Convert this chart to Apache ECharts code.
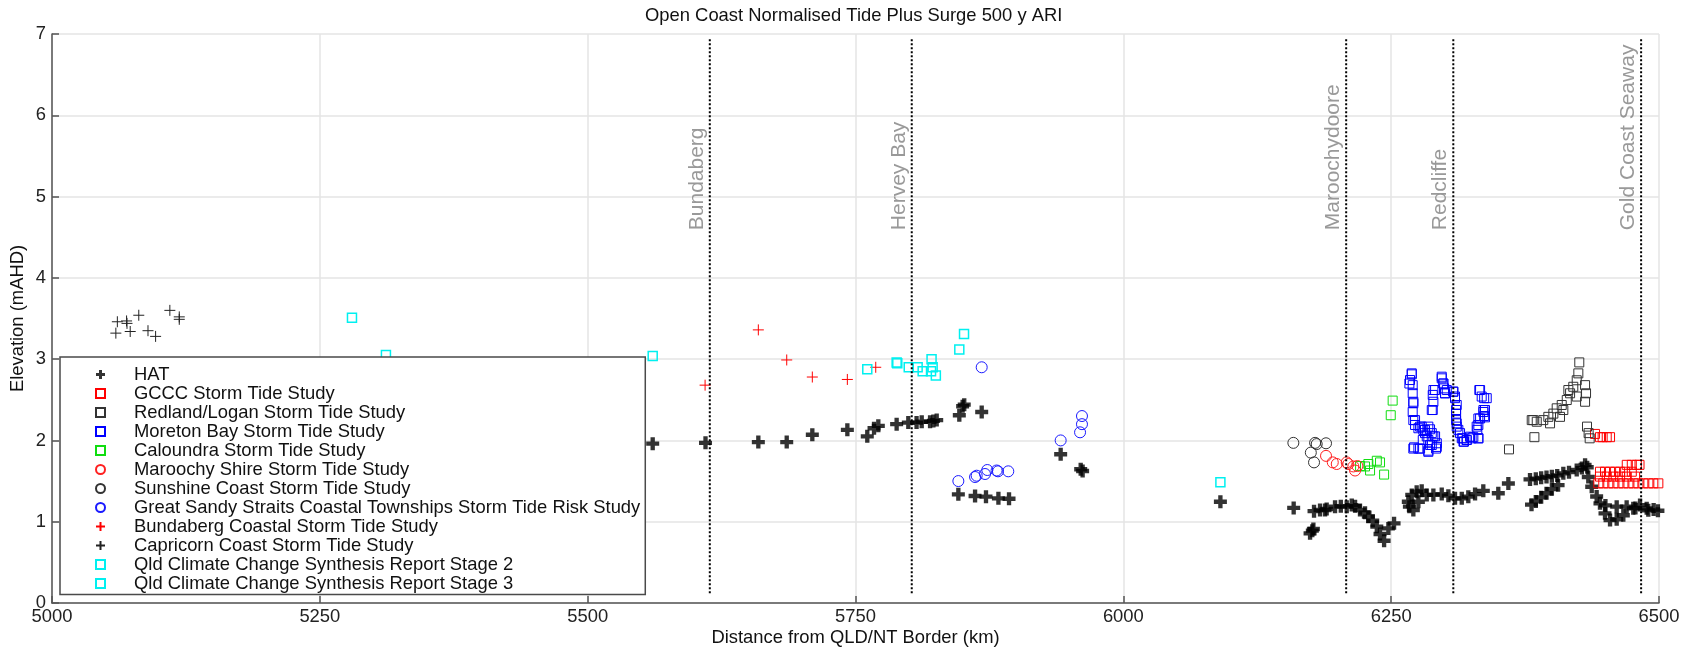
<!DOCTYPE html>
<html><head><meta charset="utf-8">
<script src="https://cdn.jsdelivr.net/npm/echarts@6/dist/echarts.min.js"></script>
<style>html,body{margin:0;padding:0;background:#fff}#c{width:1686px;height:648px}</style>
</head><body><div id="c"></div>
<script>
const titleText = 'Open Coast Normalised Tide Plus Surge 500 y ARI';
const xName = 'Distance from QLD/NT Border (km)';
const yName = 'Elevation (mAHD)';
const xMin = 5000, xMax = 6500, xStep = 250;
const yMin = 0, yMax = 7, yStep = 1;

const placeNames = ['Bundaberg', 'Hervey Bay', 'Maroochydoore', 'Redcliffe', 'Gold Coast Seaway'];
const placeKm = [5614, 5802.5, 6208, 6308, 6483.3];
const placeLabelY = 4.58;
const placeLineSpan = [0.12, 6.94];

const seriesNames = [
  'HAT',
  'GCCC Storm Tide Study',
  'Redland/Logan Storm Tide Study',
  'Moreton Bay Storm Tide Study',
  'Caloundra Storm Tide Study',
  'Maroochy Shire Storm Tide Study',
  'Sunshine Coast Storm Tide Study',
  'Great Sandy Straits Coastal Townships Storm Tide Risk Study',
  'Bundaberg Coastal Storm Tide Study',
  'Capricorn Coast Storm Tide Study',
  'Qld Climate Change Synthesis Report Stage 2',
  'Qld Climate Change Synthesis Report Stage 3'
];

const hat = [
  [5560.7,1.96],[5610,1.97],[5659.3,1.98],[5685.8,1.98],[5709.7,2.07],[5742.4,2.13],[5761,2.05],
  [5767.3,2.15],[5771.3,2.18],[5788.4,2.20],[5799.3,2.22],[5807,2.22],[5811.8,2.23],[5819.6,2.23],
  [5822.7,2.24],[5825.8,2.25],[5846.9,2.31],[5850,2.42],[5851.5,2.44],[5867.8,2.35],
  [5846,1.337],[5861.6,1.316],[5871.8,1.308],[5883.4,1.288],[5893.3,1.283],
  [5941.5,1.83],[5960.2,1.645],[5962,1.624],[6090.6,1.246],
  [6159,1.17],[6174.3,0.857],[6176.4,0.89],[6177.4,0.91],[6178,1.13],[6183.6,1.144],[6188.3,1.144],
  [6189.8,1.156],[6197.6,1.185],[6203,1.19],[6208.5,1.185],[6213.2,1.205],[6216.3,1.19],
  [6220.9,1.144],[6225.6,1.111],[6228.7,1.062],[6232.8,1.012],[6236.6,0.939],[6239.6,0.849],
  [6243.4,0.766],[6247.4,0.918],[6252.7,0.98],
  [6266,1.246],[6267,1.185],[6270.7,1.144],[6269.2,1.33],[6273.8,1.37],[6275.4,1.246],[6278.5,1.38],
  [6283.2,1.33],[6289.4,1.33],[6297.2,1.34],[6303.4,1.32],[6309.6,1.288],[6315.9,1.288],
  [6322,1.308],[6328.3,1.34],[6336,1.38],[6350,1.35],[6359.4,1.47],
  [6379.6,1.52],[6385,1.53],[6390,1.54],[6395,1.55],[6400,1.56],[6405,1.57],[6410.7,1.595],
  [6416,1.61],[6423.2,1.636],[6428,1.66],[6431,1.70],[6433,1.67],
  [6381,1.21],[6385,1.25],[6390,1.30],[6395,1.35],[6400,1.40],[6405.8,1.45],
  [6434,1.55],[6437.2,1.43],[6441.8,1.31],[6444.9,1.226],[6449.6,1.103],[6454.3,1.02],
  [6460.5,1.03],[6466.7,1.08],[6476,1.165],[6482.3,1.205],[6488.5,1.165],[6499,1.135],
  [6450,1.20],[6460.5,1.185],[6469.8,1.185],[6478,1.17],[6490,1.14],[6495,1.15]
];

const gccc = [
  [6440.3,2.08],[6444.9,2.04],[6447.4,2.04],[6451.2,2.04],[6454.3,2.04],
  [6469.9,1.70],[6474.6,1.70],[6479.3,1.70],[6481.8,1.70],
  [6444.9,1.615],[6449.6,1.615],[6454.3,1.615],[6459,1.615],[6463.7,1.615],[6468.4,1.615],[6474.6,1.615],
  [6444.9,1.555],[6451.2,1.555],[6457.4,1.555],[6463.7,1.555],[6469.9,1.555],[6477.7,1.555],
  [6443.4,1.472],[6448,1.472],[6452.7,1.472],[6457.4,1.472],[6462.1,1.472],[6466.8,1.472],[6471.5,1.472],
  [6476.1,1.472],[6480.8,1.472],[6485.4,1.472],[6490.1,1.472],[6494.7,1.472],[6499.4,1.472]
];

const redland = [
  [6360,1.89],[6383.7,2.04],[6381.2,2.25],[6382.7,2.25],[6385.9,2.23],[6392,2.25],[6396.7,2.29],
  [6398.3,2.21],[6401.4,2.33],[6404.5,2.395],[6407.6,2.29],[6409.2,2.436],[6410.7,2.374],
  [6413.9,2.497],[6415.4,2.62],[6417,2.58],[6420,2.66],[6423.2,2.74],[6423.2,2.54],[6424.7,2.825],
  [6425.6,2.96],[6431,2.68],[6431.9,2.58],[6431,2.476],[6432.8,2.17],[6434.3,2.09],[6435.3,2.026]
];

const moreton = [
  [6269.2,2.813],[6267.6,2.743],[6267,2.70],[6270.1,2.68],[6270.1,2.58],[6270.7,2.476],[6270.1,2.35],
  [6270.7,2.25],[6272.3,2.19],[6275.4,2.15],[6278.5,2.17],[6280,2.13],[6281.6,2.09],[6283.2,2.05],
  [6284.7,2.005],[6279.5,2.005],[6286.3,2.137],[6287.9,2.09],[6291,2.05],[6292.6,1.965],[6291.9,1.90],
  [6287.9,1.944],[6284.7,1.874],[6277,1.90],[6271.4,1.915],[6288.8,2.374],[6289.4,2.476],[6288.8,2.56],
  [6291,2.62],[6297.2,2.764],[6298.7,2.70],[6299.4,2.64],[6300.3,2.58],[6301.9,2.62],[6308,2.60],
  [6309.6,2.54],[6311.2,2.436],[6310.6,2.33],[6310.6,2.25],[6311.2,2.17],[6314.3,2.09],[6316.8,2.026],
  [6318,1.985],[6320.5,2.005],[6323.6,2.046],[6326.7,2.04],[6331.4,2.026],[6330.4,2.13],[6331.4,2.19],
  [6333,2.27],[6336.1,2.35],[6337.6,2.284],[6337.6,2.374],[6332.3,2.62],[6334.5,2.54],[6339.2,2.52],
  [6269.2,2.825],[6270.7,2.457],[6272.3,2.25],[6277,2.17],[6281.6,2.13],[6284.7,2.17],[6289.4,2.05],
  [6292.6,1.92],[6286.3,1.944],[6270.7,1.90],[6275.4,1.90],[6284.7,1.86],[6287.9,2.374],[6289.4,2.62],
  [6297.2,2.784],[6298.7,2.70],[6300.3,2.58],[6308,2.60],[6309.6,2.52],[6310.6,2.374],[6311.2,2.21],
  [6312.7,2.13],[6315.9,2.026],[6317.5,1.985],[6320.5,2.005],[6325.1,2.026],[6331.4,2.026],
  [6329.8,2.17],[6331.4,2.27],[6336.1,2.374],[6336.8,2.30],[6333,2.62],[6336.8,2.52]
];

const caloundra = [
  [6251.4,2.49],[6249.6,2.31],[6221,1.685],[6225.6,1.68],[6228.7,1.71],[6230.3,1.63],
  [6236.6,1.75],[6239.6,1.73],[6243.4,1.58]
];

const maroochy = [
  [6189.2,1.81],[6195.5,1.73],[6199.2,1.71],[6208.5,1.73],[6210,1.71],[6214.7,1.68],[6216.3,1.63],[6218.5,1.685]
];

const sunshine = [
  [6158.7,1.97],[6179,1.97],[6180.5,1.955],[6189.2,1.965],[6175,1.85],[6178,1.73]
];

const greatSandy = [
  [5867.8,2.90],[5846,1.50],[5861.6,1.55],[5863.1,1.566],[5870.9,1.587],[5873,1.636],[5881.7,1.63],
  [5883,1.62],[5892.6,1.62],[5941.5,2.00],[5959.6,2.10],[5961.4,2.20],[5961.4,2.30]
];

const bundaberg = [
  [5609.6,2.68],[5659.3,3.36],[5685.8,2.99],[5709.7,2.78],[5742.4,2.75],[5768.9,2.90]
];

const capricorn = [
  [5059.6,3.32],[5061,3.46],[5069.6,3.47],[5070,3.44],[5073,3.34],[5081,3.54],[5089.6,3.35],
  [5096.7,3.28],[5110,3.60],[5118.8,3.49],[5118.8,3.52]
];

const qldStage2 = [
  [5280,3.51],[5311.7,3.05],[5560.7,3.04],[6090.6,1.485]
];

const qldStage3 = [
  [5761,2.875],[5788.4,2.96],[5789,2.95],[5799.7,2.90],[5808,2.90],[5812.7,2.85],[5821,3.00],
  [5822,2.90],[5820.5,2.85],[5825,2.80],[5846.9,3.12],[5851.3,3.31]
];

const FONT = '"Liberation Sans", Arial, Helvetica, sans-serif';
const FS = 18.4;
const BOLD_PLUS = 'path://M4,0H8V4H12V8H8V12H4V8H0V4H4Z';
const THIN_PLUS = 'path://M5,0V10M0,5H10';

function hollow(name, data, symbol, size, color, width) {
  return {
    type: 'scatter', name: name, data: data, symbol: symbol, symbolSize: size,
    itemStyle: { color: 'rgba(255,255,255,0)', borderColor: color, borderWidth: width || 1, opacity: 1 },
    emphasis: { disabled: true }, silent: true
  };
}

const series = [
  { type: 'scatter', name: seriesNames[0], data: hat, symbol: BOLD_PLUS, symbolSize: 13,
    itemStyle: { color: '#000', borderWidth: 0 }, emphasis: { disabled: true }, silent: true },
  hollow(seriesNames[1], gccc, 'rect', 9, '#ff0000'),
  hollow(seriesNames[2], redland, 'rect', 9, '#333333'),
  hollow(seriesNames[3], moreton, 'rect', 9, '#0000ff'),
  hollow(seriesNames[4], caloundra, 'rect', 9, '#10dd10'),
  hollow(seriesNames[5], maroochy, 'circle', 11, '#ff2020'),
  hollow(seriesNames[6], sunshine, 'circle', 11, '#333333'),
  hollow(seriesNames[7], greatSandy, 'circle', 11, '#1a1aff'),
  hollow(seriesNames[8], bundaberg, THIN_PLUS, 11, '#ff0000'),
  hollow(seriesNames[9], capricorn, THIN_PLUS, 11, '#222222'),
  hollow(seriesNames[10], qldStage2, 'rect', 9, '#00f0f0', 1.5),
  hollow(seriesNames[11], qldStage3, 'rect', 9, '#00f0f0', 1.5)
];

placeKm.forEach(function (x, i) {
  series.push({
    type: 'line', name: 'line-' + placeNames[i],
    data: [[x, placeLineSpan[0]], [x, placeLineSpan[1]]],
    showSymbol: false, symbol: 'none', silent: true, z: 3,
    lineStyle: { type: 'dotted', color: '#000', width: 2 }
  });
});

series.push({
  type: 'scatter', name: 'places',
  data: placeKm.map(function (x, i) { return { value: [x, placeLabelY], name: placeNames[i] }; }),
  symbolSize: 1, itemStyle: { color: 'rgba(0,0,0,0)' }, silent: true, z: 4,
  label: {
    show: true, formatter: function (p) { return p.name; }, rotate: 90,
    position: [-2, 0], align: 'left', verticalAlign: 'bottom',
    fontSize: 21, color: '#808080', fontFamily: FONT
  }
});

const chart = echarts.init(document.getElementById('c'), null, { renderer: 'canvas' });
chart.setOption({
  animation: false,
  backgroundColor: '#fff',
  textStyle: { fontFamily: FONT },
  title: {
    text: titleText, left: 645, top: 7, padding: 0,
    textStyle: { fontSize: FS, fontWeight: 'normal', color: '#111', fontFamily: FONT }
  },
  grid: { left: 52, right: 27, top: 34, bottom: 45, containLabel: false, outerBoundsMode: 'none' },
  legend: {
    data: seriesNames, orient: 'vertical', left: 60, top: 357,
    padding: [8.5, 5, 2, 35], itemWidth: 9, itemHeight: 9, itemGap: 1,
    backgroundColor: '#fff', borderColor: '#4a4a4a', borderWidth: 1.5, borderRadius: 0,
    selectedMode: false,
    textStyle: { fontSize: FS, color: '#111', fontFamily: FONT, padding: [0, 0, 0, 24] }
  },
  xAxis: {
    type: 'value', min: xMin, max: xMax, interval: xStep,
    name: xName, nameLocation: 'middle', nameGap: 26, nameMoveOverlap: false,
    nameTextStyle: { fontSize: FS, color: '#111', fontFamily: FONT },
    axisLine: { show: true, onZero: false, lineStyle: { color: '#555', width: 1.5 } },
    axisTick: { show: true, inside: true, length: 7, lineStyle: { color: '#555', width: 1.5 } },
    axisLabel: { fontSize: FS, color: '#222', margin: 5, formatter: function (v) { return String(v); } },
    splitLine: { show: true, lineStyle: { color: '#e4e4e4', width: 1.5 } }
  },
  yAxis: {
    type: 'value', min: yMin, max: yMax, interval: yStep,
    name: yName, nameLocation: 'middle', nameGap: 25, nameMoveOverlap: false,
    nameTextStyle: { fontSize: FS, color: '#111', fontFamily: FONT },
    axisLine: { show: true, onZero: false, lineStyle: { color: '#555', width: 1.5 } },
    axisTick: { show: true, inside: true, length: 7, lineStyle: { color: '#555', width: 1.5 } },
    axisLabel: { fontSize: FS, color: '#222', margin: 6, formatter: function (v) { return String(v); } },
    splitLine: { show: true, lineStyle: { color: '#e4e4e4', width: 1.5 } }
  },
  series: series
});
</script>
</body></html>
